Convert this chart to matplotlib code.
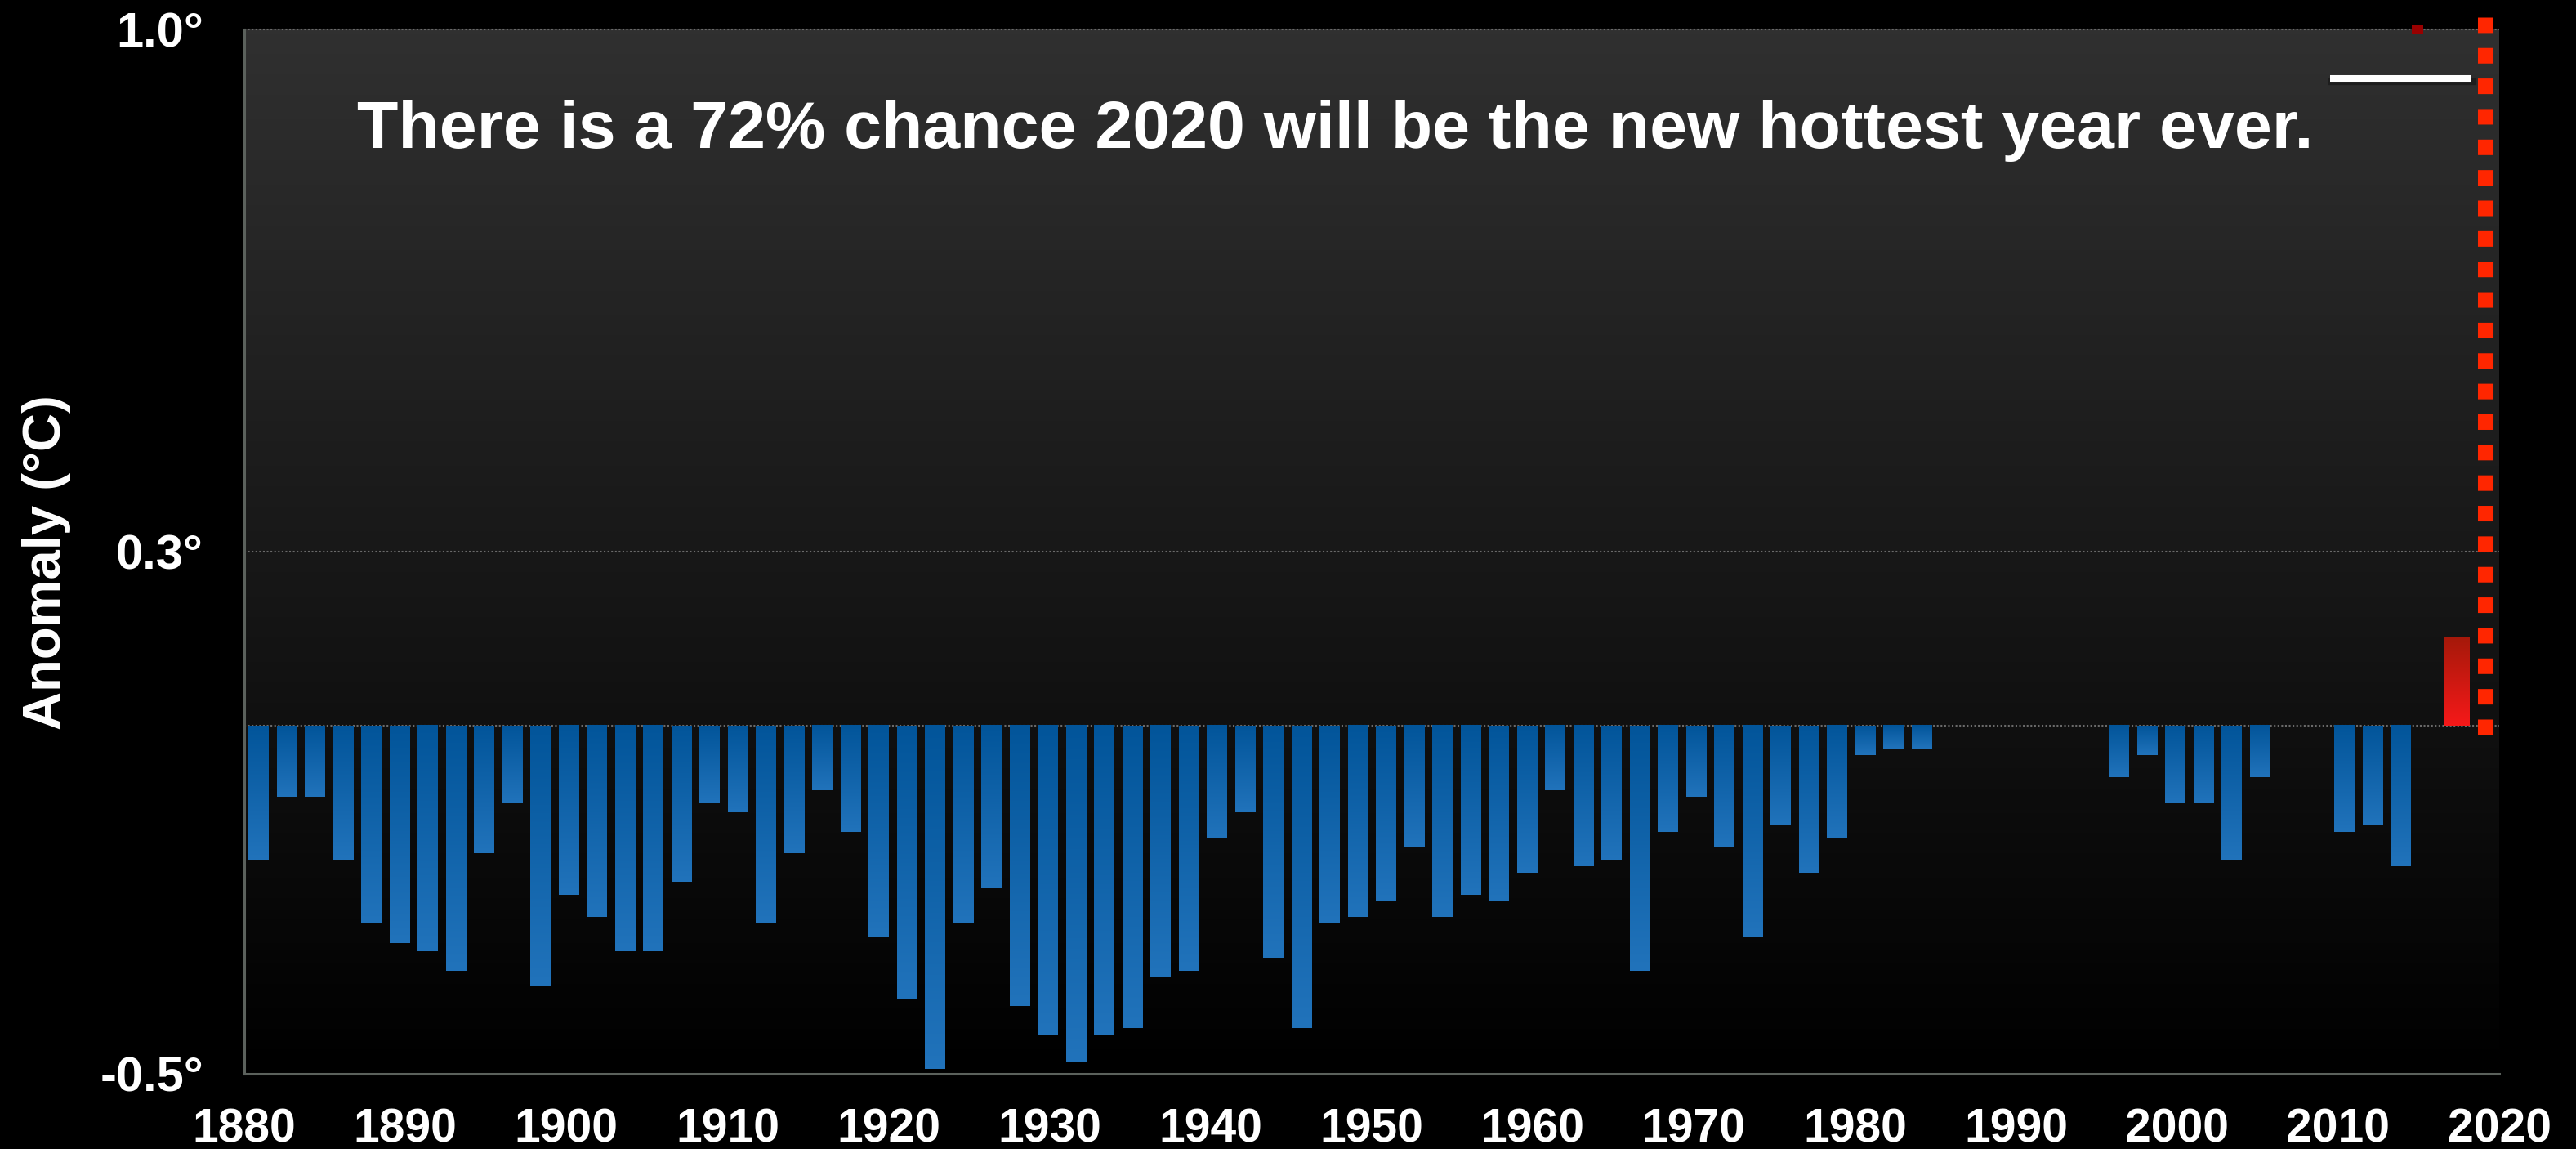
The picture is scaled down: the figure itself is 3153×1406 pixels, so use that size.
import numpy as np
from matplotlib import pyplot as plt
from matplotlib import transforms
from matplotlib.colors import LinearSegmentedColormap

# anomaly per category (80 slots across the plot, nan = no bar)
anomaly = [
    -0.192, -0.102, -0.102, -0.192, -0.284, -0.312, -0.324, -0.352, -0.183, -0.111,
    -0.374, -0.243, -0.275, -0.324, -0.324, -0.224, -0.111, -0.124, -0.284, -0.183,
    -0.093, -0.153, -0.303, -0.393, -0.493, -0.284, -0.234, -0.403, -0.444, -0.484,
    -0.444, -0.434, -0.362, -0.352, -0.162, -0.124, -0.333, -0.434, -0.284, -0.275,
    -0.252, -0.174, -0.275, -0.243, -0.252, -0.211, -0.093, -0.202, -0.192, -0.352,
    -0.153, -0.102, -0.174, -0.303, -0.143, -0.211, -0.162, -0.042, -0.033, -0.033,
    np.nan, np.nan, np.nan, np.nan, np.nan, np.nan, -0.074, -0.042, -0.111, -0.111,
    -0.192, -0.074, np.nan, np.nan, -0.153, -0.143, -0.202, np.nan,
]
current_cat = 78
current_value = 0.127
record_cat = 79
record_span = (-0.013, 1.018)
record_level = 0.93
record_level_span = (73.5, 78.5)
top_mark_cat = 76.6
top_mark_span = (0.9947, 1.0053)

years = list(range(1880, 2021, 10))
y_ticks = [-0.5, 0.25, 1.0]
y_tick_labels = ["-0.5°", "0.3°", "1.0°"]
title = "There is a 72% chance 2020 will be the new hottest year ever."

W, H = 3153, 1406
plt.rcParams["font.family"] = ["Liberation Sans", "DejaVu Sans"]
plt.rcParams["font.weight"] = "bold"

fig = plt.figure(figsize=(W / 100, H / 100), dpi=100, facecolor="black")
ax = fig.add_axes([299 / W, 1 - 1314 / H, (3059 - 299) / W, (1314 - 36) / H])

# background gradient of the plot area
bg = LinearSegmentedColormap.from_list("bg", ["#000000", "#303030"])
ax.imshow(np.linspace(0, 1, 256).reshape(-1, 1), cmap=bg, origin="lower",
          extent=[0, 1, 0, 1], transform=ax.transAxes, aspect="auto", zorder=0)

# dotted gridlines
for yv in [0.0, 0.25, 1.0]:
    ax.axhline(yv, color="#6a6a6a", lw=1.5, linestyle=(0, (1, 1.2)), zorder=1, clip_on=False)

blue = LinearSegmentedColormap.from_list("blue", ["#2173bb", "#02559a"])
red = LinearSegmentedColormap.from_list("red", ["#f61919", "#a5180a"])
grad = np.linspace(0, 1, 128).reshape(-1, 1)

cats = np.arange(len(anomaly))
vals = np.array(anomaly, dtype=float)
ok = ~np.isnan(vals)
bars = ax.bar(cats[ok], vals[ok], width=0.7, color="#0f62a8", zorder=2)
for b in bars:
    x0, y0, w, h = b.get_x(), b.get_y(), b.get_width(), b.get_height()
    ax.imshow(grad, cmap=blue, origin="lower", aspect="auto", zorder=3,
              extent=[x0, x0 + w, y0 + h, y0])

rb = ax.bar([current_cat], [current_value], width=0.87, color="#d01810", zorder=2)[0]
ax.imshow(grad, cmap=red, origin="lower", aspect="auto", zorder=3,
          extent=[rb.get_x(), rb.get_x() + rb.get_width(), 0, current_value])

# record marker line (dotted red) and level line
ax.plot([record_cat, record_cat], record_span, color="#ff2600", lw=13.7,
        linestyle=(0, (1, 0.963)), dash_capstyle="butt", zorder=4, clip_on=False)
shadow = ax.transData + transforms.ScaledTranslation(2 / 100, -4 / 100, fig.dpi_scale_trans)
ax.plot(record_level_span, [record_level, record_level], color="#1a1a1a", lw=6,
        zorder=3, alpha=0.8, transform=shadow)
ax.plot(record_level_span, [record_level, record_level], color="white", lw=5.8,
        solid_capstyle="butt", zorder=4)
ax.bar([top_mark_cat], [top_mark_span[1] - top_mark_span[0]], bottom=top_mark_span[0],
       width=0.41, color="#990000", zorder=4, clip_on=False)

ax.set_xlim(-0.5, 79.5)
ax.set_ylim(-0.5, 1.0)
ax.set_yticks(y_ticks)
ax.set_yticklabels(y_tick_labels)
ax.tick_params(axis="y", length=0, pad=36, labelsize=43, labelcolor="white")
ax.set_xticks([])
for s in ["top", "right"]:
    ax.spines[s].set_visible(False)
for s in ["left", "bottom"]:
    ax.spines[s].set_color("#5b615c")
    ax.spines[s].set_linewidth(2.2)

# year axis
ax_years = ax.twiny()
ax_years.set_xlim(1880, 2020)
ax_years.set_xticks(years)
ax_years.xaxis.set_ticks_position("bottom")
ax_years.xaxis.set_label_position("bottom")
ax_years.tick_params(axis="x", length=0, pad=30, labelsize=41, labelcolor="white")
for s in ax_years.spines.values():
    s.set_visible(False)

fig.text(57 / W, 1 - 688 / H, "Anomaly (°C)", rotation=90, color="white",
         fontsize=47, fontweight="bold", ha="center", va="center")
fig.text(437 / W, 1 - 181 / H, title, color="white", fontsize=59.4,
         fontweight="bold", ha="left", va="baseline")

fig.savefig("out.png", dpi=100, facecolor="black")
